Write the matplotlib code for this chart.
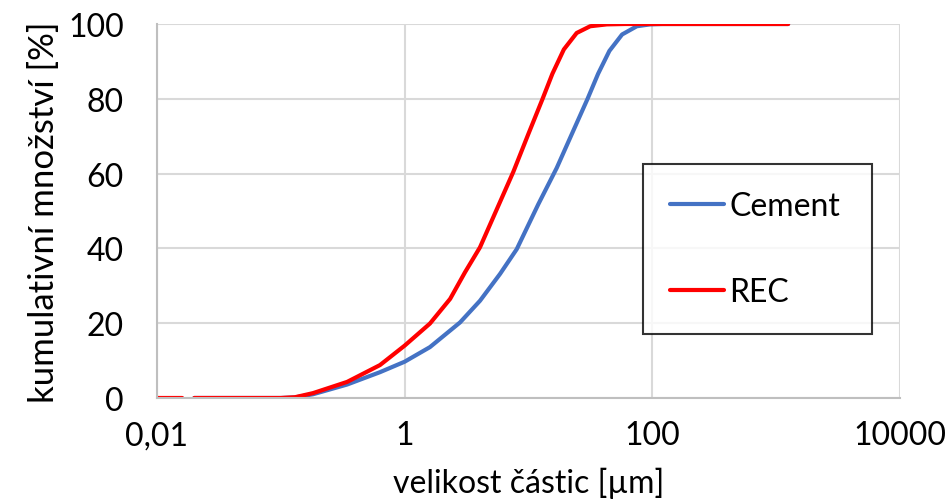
import numpy as np
import matplotlib
matplotlib.use("Agg")
import matplotlib.pyplot as plt
from matplotlib.ticker import FixedLocator, FixedFormatter

plt.rcParams['font.family'] = ['Lato', 'DejaVu Sans']

# particle size [um] and cumulative amount [%]
rec_x = [0.01, 0.0126, 0.016, np.nan, 0.02, 0.05, 0.1, 0.13, 0.182, 0.343, 0.632, 1.0, 1.6,
         2.33, 3.07, 4.06, 5.71, 7.55, 9.98, 13.0, 15.6, 19.3, 24.5, 31.5, 42.9,
         60, 100, 300, 1250]
rec_y = [0, 0, 0, np.nan, 0, 0, 0, 0.2, 1.3, 4.3, 8.8, 14, 19.9,
         26.5, 33.6, 40.3, 51.4, 60.5, 70.6, 80, 86.7, 93.2, 97.6, 99.4, 99.9,
         100, 100, 100, 100]

cem_x = [0.02, 0.05, 0.1, 0.13, 0.182, 0.343, 0.632, 1.0, 1.6, 2.8, 4.06,
         5.9, 8.04, 12.0, 16.9, 22.4, 30.0, 36.5, 45.0, 57.0, 75, 96,
         120, 300, 1250]
cem_y = [0, 0, 0, 0.15, 1.0, 3.6, 6.9, 9.7, 13.6, 20.2, 26,
         33.2, 39.8, 51.8, 61.5, 70.6, 80, 86.7, 92.8, 97.2, 99.4, 99.9,
         100, 100, 100]

x_ticks = [0.01, 1, 100, 10000]
x_labels = ["0,01", "1", "100", "10000"]
y_ticks = [0, 20, 40, 60, 80, 100]

fig = plt.figure(figsize=(9.53, 5.02), dpi=100)
ax = fig.add_axes([0.1647, 0.2052, 0.7797, 0.745])

ax.plot(cem_x, cem_y, color="#4472C4", lw=3, solid_capstyle="round", label="Cement")
ax.plot(rec_x, rec_y, color="#FF0000", lw=3, solid_capstyle="round", label="REC")

ax.set_xscale("log")
ax.set_xlim(0.01, 10000)
ax.set_ylim(0, 100)
ax.xaxis.set_major_locator(FixedLocator(x_ticks))
ax.xaxis.set_major_formatter(FixedFormatter(x_labels))
ax.xaxis.set_minor_locator(FixedLocator([]))
ax.set_yticks(y_ticks)
ax.tick_params(length=0, labelsize=23)
ax.tick_params(axis="x", pad=16)
ax.tick_params(axis="y", pad=24)

ax.grid(True, color="#D9D9D9", lw=1.5)
ax.set_axisbelow(True)
for s in ["top", "right"]:
    ax.spines[s].set_visible(False)
for s in ["left", "bottom"]:
    ax.spines[s].set_color("#BFBFBF")
    ax.spines[s].set_linewidth(1.5)

ax.set_xlabel("velikost částic [µm]", fontsize=23)
ax.xaxis.set_label_coords(0.5, -0.185)
ax.set_ylabel("kumulativní množství [%]", fontsize=25, labelpad=6)

leg = ax.legend(loc="upper left", bbox_to_anchor=(0.654, 0.152, 0.308, 0.474), mode="expand",
                fontsize=23, frameon=True, fancybox=False, edgecolor="black",
                handlelength=1.7, handletextpad=0.15, labelspacing=1.75, borderpad=0.85,
                borderaxespad=0)
leg.get_frame().set_linewidth(1.5)

fig.savefig("out.png", dpi=100)
